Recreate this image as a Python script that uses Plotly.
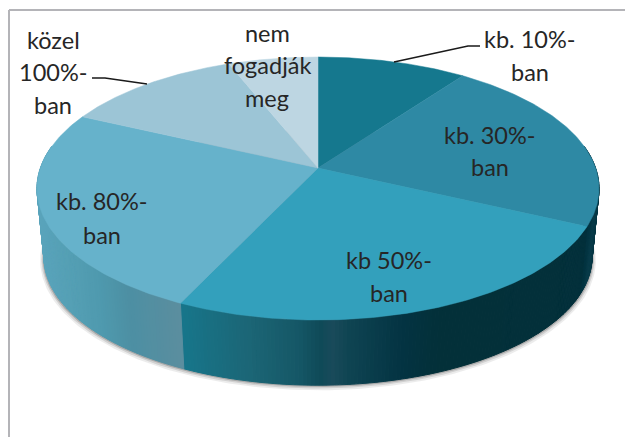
import numpy as np
import plotly.graph_objects as go

categories = ["kb. 10%-ban", "kb. 30%-ban", "kb 50%-ban", "kb. 80%-ban", "közel 100%-ban", "nem fogadják meg"]
values = [10, 22, 25, 25, 12, 6]
top_colors = ["#15788e", "#2e89a4", "#33a0bc", "#66b2cb", "#9cc5d6", "#bdd6e2"]
side_stops = [
    [(0, "#033340"), (625, "#033340")],
    [(585, "#033340"), (590, "#0a3d4b"), (600, "#03303c")],
    [(179, "#17778c"), (250, "#1c6676"), (300, "#155766"), (320, "#0f4a58"), (332, "#1a4b5b"),
     (348, "#0f4553"), (400, "#043443"), (440, "#033039"), (625, "#03303c")],
    [(36, "#5ba5bd"), (70, "#55a0b5"), (100, "#4f9aaf"), (130, "#4d90a4"), (179, "#5b8e9f")],
    [(0, "#9cc5d6"), (625, "#9cc5d6")],
    [(0, "#bdd6e2"), (625, "#bdd6e2")],
]
label_lines = [
    ("kb. 10%-", 530, 39), ("ban", 530, 72),
    ("kb. 30%-", 490, 135), ("ban", 490, 167),
    ("kb 50%-", 389, 260), ("ban", 389, 293),
    ("kb. 80%-", 102, 201), ("ban", 102, 235),
    ("közel", 53, 40), ("100%-", 53, 72), ("ban", 53, 105),
    ("nem", 267, 33), ("fogadják", 267, 65), ("meg", 267, 98),
]
leaders = [([394, 468, 480], [62, 46, 46]), ([92, 105, 147], [78, 78, 84])]

CX, CY = 318, 168
A, B, K = 128.3, 277.6, 0.156
DEPTH, SHRINK = 69, 0.975


def project(theta, bottom=False, grow=1.0):
    u, v = np.sin(theta), np.cos(theta)
    w = 1 + K * v
    X, Y = B * u / w, A * v / w
    if bottom:
        return CX + SHRINK * grow * X, CY + DEPTH - SHRINK * grow * Y
    return CX + X, CY - Y


def hex_rgb(c):
    return np.array([int(c[i:i + 2], 16) for i in (1, 3, 5)], float)


def side_color(stops, x):
    xs = [s[0] for s in stops]
    cols = np.array([hex_rgb(s[1]) for s in stops])
    return "rgb(%d,%d,%d)" % tuple(np.interp(x, xs, cols[:, i]) for i in range(3))


fig = go.Figure()
full = np.linspace(0, 2 * np.pi, 361)

# soft shadow below the disc
for grow, dy, alpha in [(1.014, 3, 0.10), (1.009, 2, 0.16), (1.005, 1, 0.28)]:
    x, y = project(full, True, grow)
    fig.add_trace(go.Scatter(x=x, y=y + dy, mode="lines", fill="toself", line=dict(width=0),
                             fillcolor=f"rgba(70,70,70,{alpha})", hoverinfo="skip"))

edges = np.cumsum([0] + values) / sum(values) * 2 * np.pi

# rim, drawn strip by strip
for i, stops in enumerate(side_stops):
    lo, hi = max(edges[i], np.radians(80)), min(edges[i + 1], np.radians(280))
    if hi <= lo:
        continue
    ts = np.linspace(lo, hi, max(2, int((hi - lo) / np.radians(0.7)) + 1))
    for a, b in zip(ts[:-1], ts[1:]):
        arc = np.array([a, b])
        xt, yt = project(arc)
        xb, yb = project(arc, True)
        colr = side_color(stops, (xt.mean() + xb.mean()) / 2)
        fig.add_trace(go.Scatter(x=[xt[0], xt[1], xb[1], xb[0], xt[0]],
                                 y=[yt[0], yt[1], yb[1], yb[0], yt[0]],
                                 mode="lines", fill="toself", fillcolor=colr,
                                 line=dict(width=1, color=colr), hoverinfo="skip"))

# top faces
for i, name in enumerate(categories):
    th = np.linspace(edges[i], edges[i + 1], 120)
    x, y = project(th)
    fig.add_trace(go.Scatter(x=np.r_[CX, x, CX], y=np.r_[CY, y, CY], mode="lines", fill="toself",
                             fillcolor=top_colors[i], line=dict(width=0.5, color=top_colors[i]),
                             name=name, hoverinfo="name"))

for lx, ly in leaders:
    fig.add_trace(go.Scatter(x=lx, y=ly, mode="lines", line=dict(color="#1a1a1a", width=1.5), hoverinfo="skip"))

for text, x, y in label_lines:
    fig.add_annotation(x=x, y=y, text=text, showarrow=False, xanchor="center", yanchor="middle",
                       font=dict(family="Lato", size=23.5, color="#262626"))

frame = dict(type="line", line=dict(color="#b4b4b8", width=2), layer="above")
fig.add_shape(x0=9, x1=625, y0=10, y1=10, **frame)
fig.add_shape(x0=9, x1=9, y0=10, y1=437, **frame)

fig.update_layout(
    width=625, height=437, margin=dict(l=0, r=0, t=0, b=0), showlegend=False,
    paper_bgcolor="white", plot_bgcolor="white",
    xaxis=dict(range=[0, 625], visible=False, fixedrange=True),
    yaxis=dict(range=[437, 0], visible=False, fixedrange=True),
)
fig.write_html("out.html", config=dict(displayModeBar=False),
               post_script="document.body.style.margin='0';document.body.style.overflow='hidden';")
